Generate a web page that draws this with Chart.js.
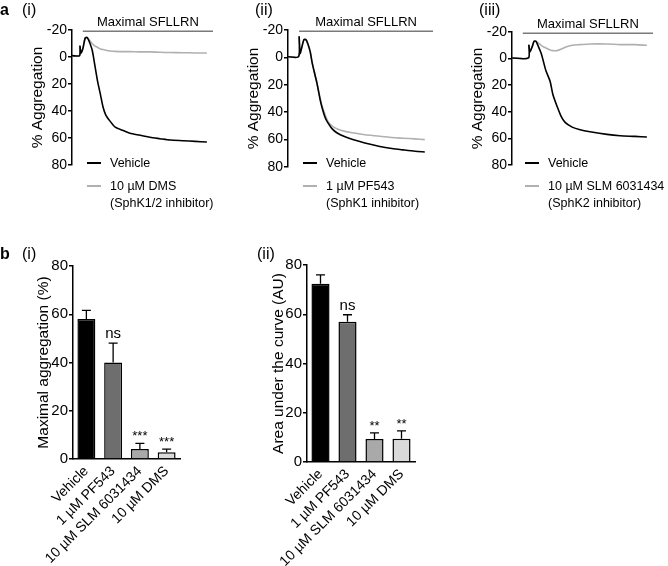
<!DOCTYPE html>
<html>
<head>
<meta charset="utf-8">
<script src="https://cdn.jsdelivr.net/npm/chart.js@4.4.1/dist/chart.umd.min.js"></script>
<style>
    body { margin: 0; background: #fff; }
    #fig { position: relative; width: 668px; height: 566px; font-family: 'Liberation Sans', Arial, sans-serif; color: #000; overflow: hidden; }
    #fig canvas { position: absolute; }
    .txt { position: absolute; white-space: nowrap; line-height: 17px; font-size: 12.5px; }
    .panel { position: absolute; font-size: 16px; line-height: 18px; }
    .key { position: absolute; height: 1.6px; width: 14px; }
</style>
</head>
<body>
<div id="fig">
    <canvas id="a1" width="220" height="240" style="left:0;top:0"></canvas>
    <canvas id="a2" width="220" height="240" style="left:220px;top:0"></canvas>
    <canvas id="a3" width="228" height="240" style="left:440px;top:0"></canvas>
    <canvas id="b1" width="230" height="316" style="left:0;top:250px"></canvas>
    <canvas id="b2" width="200" height="316" style="left:240px;top:250px"></canvas>

    <div class="panel" style="left:0;top:1px;font-weight:bold">a</div>
    <div class="panel" style="left:22px;top:1px">(i)</div>
    <div class="panel" style="left:255px;top:1px">(ii)</div>
    <div class="panel" style="left:479px;top:1px">(iii)</div>
    <div class="panel" style="left:0;top:245px;font-weight:bold">b</div>
    <div class="panel" style="left:22px;top:245px">(i)</div>
    <div class="panel" style="left:257px;top:245px">(ii)</div>

    <!-- legends -->
    <div class="key" style="left:87px;top:162px;background:#000"></div>
    <div class="txt" style="left:110px;top:154.5px">Vehicle</div>
    <div class="key" style="left:87px;top:185px;background:#b0b0b0"></div>
    <div class="txt" style="left:110px;top:177.5px">10 µM DMS<br>(SphK1/2 inhibitor)</div>

    <div class="key" style="left:303px;top:162px;background:#000"></div>
    <div class="txt" style="left:326px;top:154.5px">Vehicle</div>
    <div class="key" style="left:303px;top:185px;background:#b0b0b0"></div>
    <div class="txt" style="left:326px;top:177.5px">1 µM PF543<br>(SphK1 inhibitor)</div>

    <div class="key" style="left:525px;top:162px;background:#000"></div>
    <div class="txt" style="left:548px;top:154.5px">Vehicle</div>
    <div class="key" style="left:525px;top:185px;background:#b0b0b0"></div>
    <div class="txt" style="left:548px;top:177.5px">10 µM SLM 6031434<br>(SphK2 inhibitor)</div>
</div>

<script>
// ---- aggregation traces (time in s, % aggregation) ----
const timeA1 = [0, 16, 17, 19, 23, 28, 32, 36, 43, 49, 55, 60, 66, 72, 81, 92, 109, 123, 145, 166, 187, 209, 236, 262, 287];
const vehicleA1 = [-1, -1, -8, -3, -6, -14, -14.5, -12, -5, 7, 19, 27, 37, 43, 47.5, 52, 54.5, 56.5, 58, 59.5, 60.5, 61.5, 62, 62.5, 63];
const dmsA1 = [-1, -1, -8, -3, -6, -14, -14, -13, -10, -8, -7, -6, -5.5, -5, -4.5, -4.2, -4, -4, -3.8, -3.8, -3.5, -3.3, -3.2, -3, -3];

const timeA2 = [0, 22, 23, 25, 29, 33, 37, 41, 46, 50, 56, 60, 66, 70, 77, 83, 91, 101, 118, 134, 159, 190, 215, 238, 263, 283];
const vehicleA2 = [-0.5, -0.5, -15, -3, -8, -13, -13, -10, -4, 4, 13, 19, 30, 36, 44, 48, 52, 55, 58, 60, 62.5, 65, 66.5, 67.5, 68.5, 69];
const pf543A2 = [-0.5, -0.5, -15, -3, -8, -13, -13, -10, -4, 4, 13, 19, 29, 35, 42, 47, 50, 52, 54, 55, 56.5, 57.5, 58.5, 59, 59.5, 60];

const timeA3 = [0, 35, 36, 38, 43, 47, 51, 55, 62, 66, 72, 81, 87, 96, 104, 113, 128, 145, 166, 202, 230, 262, 287];
const vehicleA3 = [-0.5, -0.5, -10, -5, -9, -13, -13, -10, -4, 1, 9, 17, 27, 36, 43, 48, 51.5, 53.5, 55, 57, 58, 58.5, 59];
const slmA3 = [-0.5, -0.5, -10, -5, -9, -13, -13, -12, -10, -9, -8, -6.5, -6, -6, -7, -8.5, -10, -10.5, -11, -11, -10.5, -10.5, -10];

const agonistStart = 23;

// ---- summary bars ----
const groups = ['Vehicle', '1 µM PF543', '10 µM SLM 6031434', '10 µM DMS'];
const maxAggMean = [58, 40, 4.1, 2.8];
const maxAggSem = [3.6, 8, 2.4, 1.3];
const maxAggSig = ['', 'ns', '***', '***'];
const aucMean = [72.4, 57, 9.3, 9.4];
const aucSem = [3.6, 2.8, 2.5, 3.2];
const aucSig = ['', 'ns', '**', '**'];
const barColors = ['#000000', '#6e6e6e', '#a9a9a9', '#dadada'];

const FONT = "'Liberation Sans', Arial, sans-serif";
Chart.defaults.font.family = FONT;
Chart.defaults.color = '#000';

// horizontal bar marking agonist addition
const agonistBar = {
    id: 'agonistBar',
    afterDraw(chart, args, opts) {
        const { ctx, chartArea, scales: { x, y } } = chart;
        const x0 = x.getPixelForValue(opts.start);
        const x1 = chartArea.right;
        const yy = y.getPixelForValue(opts.level);
        ctx.save();
        ctx.strokeStyle = '#7a7a7a';
        ctx.lineWidth = 1.5;
        ctx.beginPath();
        ctx.moveTo(x0, yy);
        ctx.lineTo(x1, yy);
        ctx.stroke();
        ctx.fillStyle = '#000';
        ctx.font = '13px ' + FONT;
        ctx.textAlign = 'center';
        ctx.textBaseline = 'alphabetic';
        ctx.fillText('Maximal SFLLRN', (x0 + x1) / 2, yy - 5);
        ctx.restore();
    }
};

// upper SEM whiskers plus significance labels
const errorBars = {
    id: 'errorBars',
    afterDatasetsDraw(chart, args, opts) {
        const { ctx, scales: { y } } = chart;
        const meta = chart.getDatasetMeta(0);
        ctx.save();
        ctx.strokeStyle = '#000';
        ctx.lineWidth = 1.3;
        ctx.fillStyle = '#000';
        ctx.textAlign = 'center';
        ctx.textBaseline = 'alphabetic';
        meta.data.forEach((bar, i) => {
            const base = y.getPixelForValue(opts.mean[i]);
            const top = y.getPixelForValue(opts.mean[i] + opts.sem[i]);
            ctx.beginPath();
            ctx.moveTo(bar.x, base);
            ctx.lineTo(bar.x, top);
            ctx.moveTo(bar.x - 4.5, top);
            ctx.lineTo(bar.x + 4.5, top);
            ctx.stroke();
            if (opts.sig[i]) {
                const isStar = opts.sig[i][0] === '*';
                ctx.font = (isStar ? '13px ' : '15px ') + FONT;
                ctx.fillText(opts.sig[i], bar.x, top - (isStar ? 3 : 5));
            }
        });
        ctx.restore();
    }
};

function yAxisStyle(title, tickSize, width) {
    return {
        ticks: { stepSize: 20, padding: 1, font: { size: tickSize }, color: '#000' },
        grid: { display: true, drawOnChartArea: false, drawTicks: true, tickLength: 4, color: '#000', lineWidth: 1.5 },
        border: { display: true, color: '#000', width: 1.5 },
        title: { display: true, text: title, font: { size: 15.5 }, padding: 0, color: '#000' },
        afterFit: s => { s.width = width; },
    };
}

function traceChart(id, times, vehicle, drug, pad) {
    return new Chart(document.getElementById(id), {
        type: 'line',
        data: {
            datasets: [
                { label: 'Vehicle', data: times.map((t, i) => ({ x: t, y: vehicle[i] })), borderColor: '#000', borderWidth: 1.6 },
                { label: 'Drug', data: times.map((t, i) => ({ x: t, y: drug[i] })), borderColor: '#b0b0b0', borderWidth: 1.6 },
            ],
        },
        options: {
            responsive: false,
            animation: false,
            events: [],
            layout: { padding: pad },
            elements: { point: { radius: 0 }, line: { tension: 0.25 } },
            plugins: {
                legend: { display: false },
                tooltip: { enabled: false },
                agonistBar: { start: agonistStart, level: -19 },
            },
            scales: {
                x: { type: 'linear', display: false, min: 0, max: 300 },
                y: { reverse: true, min: -20, max: 80, ...yAxisStyle('% Aggregation', 14, 44) },
            },
        },
        plugins: [agonistBar],
    });
}

function summaryChart(id, mean, sem, sig, title, pad, yWidth, xHeight) {
    return new Chart(document.getElementById(id), {
        type: 'bar',
        data: {
            labels: groups,
            datasets: [{
                data: mean,
                backgroundColor: barColors,
                borderColor: '#000',
                borderWidth: 1.5,
                barPercentage: 0.67,
                categoryPercentage: 1,
            }],
        },
        options: {
            responsive: false,
            animation: false,
            events: [],
            layout: { padding: pad },
            plugins: {
                legend: { display: false },
                tooltip: { enabled: false },
                errorBars: { mean, sem, sig },
            },
            scales: {
                x: {
                    grid: { display: false },
                    border: { display: true, color: '#000', width: 1.5 },
                    ticks: { minRotation: 45, maxRotation: 45, autoSkip: false, padding: -4, font: { size: 14 }, color: '#000' },
                    afterFit: s => { s.height = xHeight; },
                },
                y: { min: 0, max: 80, ...yAxisStyle(title, 15, yWidth) },
            },
        },
        plugins: [errorBars],
    });
}

traceChart('a1', timeA1, vehicleA1, dmsA1, { left: 28, top: 30, right: 7, bottom: 75 });
traceChart('a2', timeA2, vehicleA2, pf543A2, { left: 24, top: 30, right: 7, bottom: 73 });
traceChart('a3', timeA3, vehicleA3, slmA3, { left: 28, top: 32, right: 15, bottom: 75 });

summaryChart('b1', maxAggMean, maxAggSem, maxAggSig, 'Maximal aggregation (%)', { left: 34, top: 16, right: 50, bottom: 0 }, 39, 107);
summaryChart('b2', aucMean, aucSem, aucSig, 'Area under the curve (AU)', { left: 29, top: 15, right: 25, bottom: 0 }, 38, 104);
</script>
</body>
</html>
